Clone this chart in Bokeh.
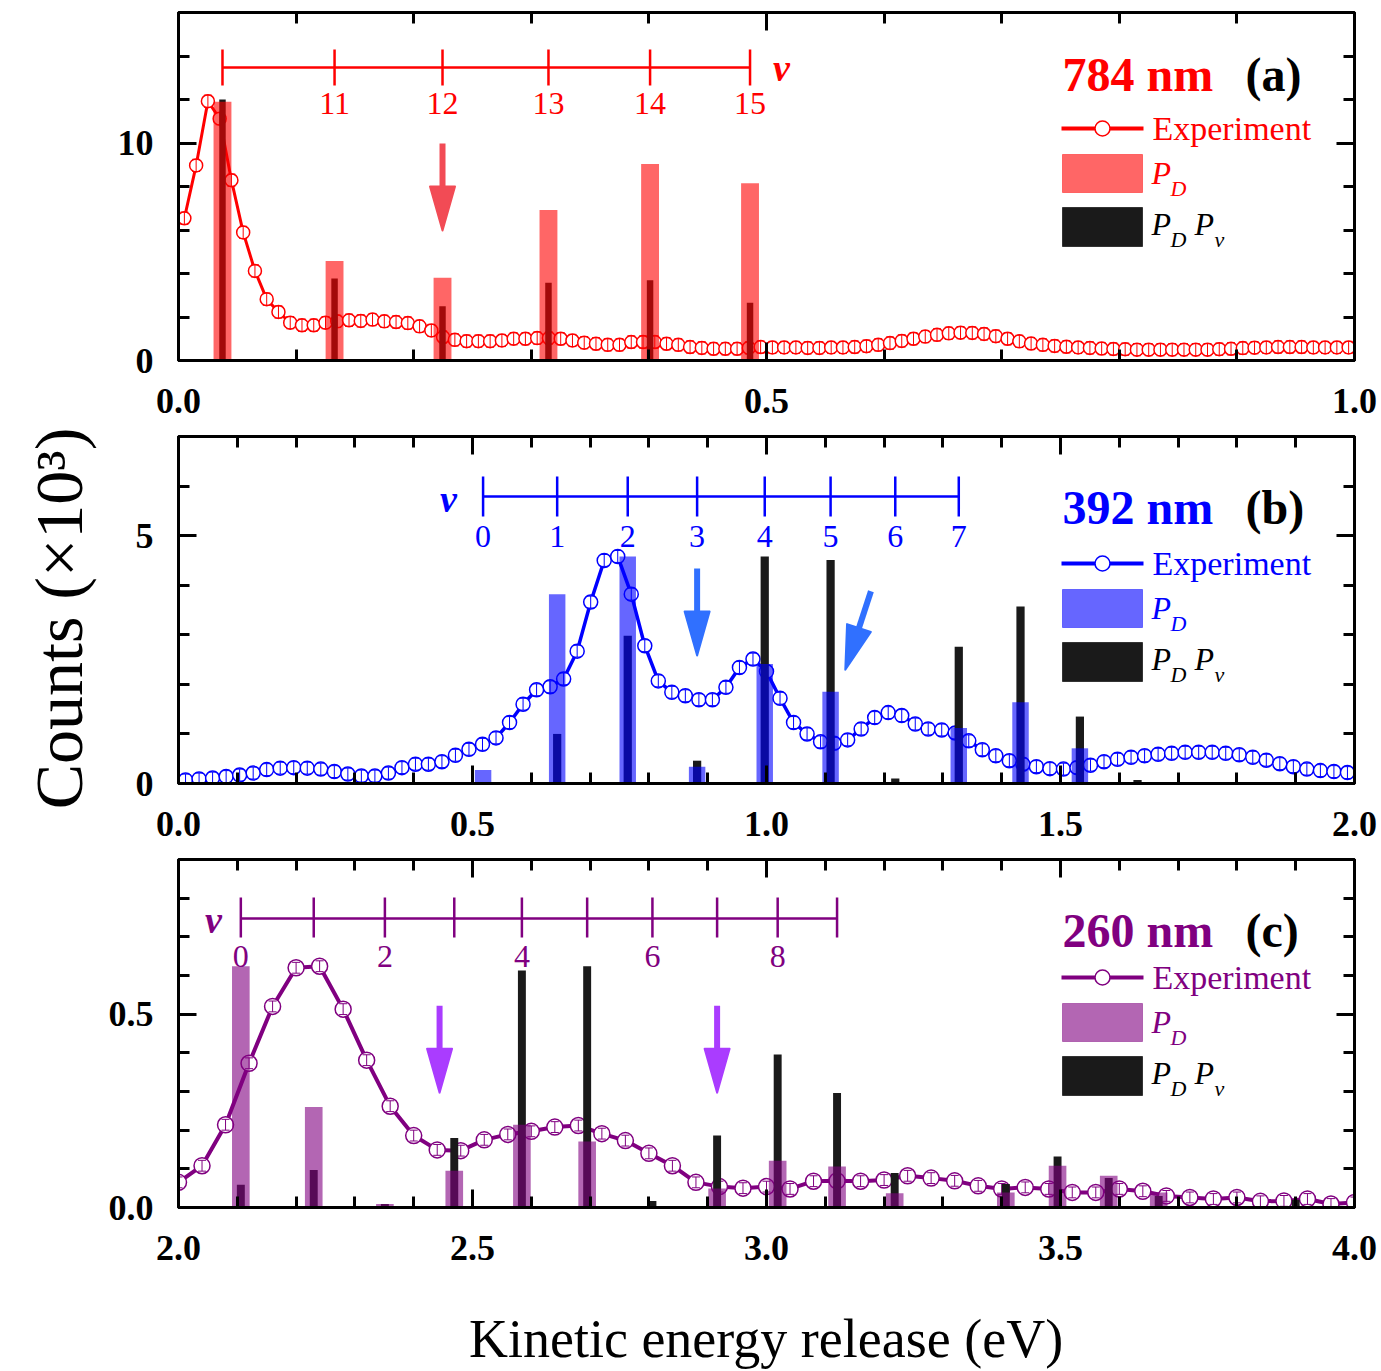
import math
from bokeh.plotting import figure
from bokeh.layouts import column, row
from bokeh.models import Range1d, FixedTicker, LinearAxis, PrintfTickFormatter, Label
from bokeh.core.properties import value
from bokeh.embed import file_html
from bokeh.resources import INLINE

SERIF = "Liberation Serif"
DARK = "#1a1a1a"

# ---------------- (a) 784 nm ----------------
ker_a = [0.005, 0.015, 0.025, 0.035, 0.045, 0.055, 0.065, 0.075, 0.085, 0.095,
         0.105, 0.115, 0.125, 0.135, 0.145, 0.155, 0.165, 0.175, 0.185, 0.195,
         0.205, 0.215, 0.225, 0.235, 0.245, 0.255, 0.265, 0.275, 0.285, 0.295,
         0.305, 0.315, 0.325, 0.335, 0.345, 0.355, 0.365, 0.375, 0.385, 0.395,
         0.405, 0.415, 0.425, 0.435, 0.445, 0.455, 0.465, 0.475, 0.485, 0.495,
         0.505, 0.515, 0.525, 0.535, 0.545, 0.555, 0.565, 0.575, 0.585, 0.595,
         0.605, 0.615, 0.625, 0.635, 0.645, 0.655, 0.665, 0.675, 0.685, 0.695,
         0.705, 0.715, 0.725, 0.735, 0.745, 0.755, 0.765, 0.775, 0.785, 0.795,
         0.805, 0.815, 0.825, 0.835, 0.845, 0.855, 0.865, 0.875, 0.885, 0.895,
         0.905, 0.915, 0.925, 0.935, 0.945, 0.955, 0.965, 0.975, 0.985, 0.995]
counts_a = [6.54, 8.97, 11.92, 11.12, 8.29, 5.89, 4.12, 2.82, 2.23, 1.74,
            1.62, 1.62, 1.74, 1.80, 1.85, 1.82, 1.88, 1.80, 1.77, 1.72,
            1.57, 1.38, 1.08, 0.95, 0.89, 0.89, 0.89, 0.92, 1.00, 1.00,
            1.03, 1.03, 1.00, 0.92, 0.82, 0.77, 0.72, 0.72, 0.85, 0.85,
            0.85, 0.77, 0.72, 0.62, 0.58, 0.54, 0.54, 0.54, 0.58, 0.62,
            0.60, 0.60, 0.60, 0.58, 0.58, 0.60, 0.60, 0.62, 0.66, 0.72,
            0.80, 0.90, 1.00, 1.10, 1.18, 1.25, 1.28, 1.27, 1.22, 1.12,
            1.00, 0.88, 0.78, 0.72, 0.67, 0.63, 0.60, 0.58, 0.55, 0.53,
            0.52, 0.50, 0.50, 0.50, 0.50, 0.50, 0.50, 0.50, 0.52, 0.54,
            0.57, 0.59, 0.60, 0.62, 0.62, 0.62, 0.60, 0.60, 0.60, 0.60]
level_ker_a = [0.0374, 0.1327, 0.2245, 0.3146, 0.4010, 0.4860]
level_v_a = [10, 11, 12, 13, 14, 15]
pd_a = [11.9, 4.57, 3.80, 6.92, 9.03, 8.15]
pdpv_a = [12.0, 3.77, 2.49, 3.58, 3.69, 2.65]
arrows_a = [(0.2245, 9.98, 0.2245, 5.98)]

# ---------------- (b) 392 nm ----------------
ker_b = [0.012, 0.035, 0.058, 0.081, 0.104, 0.127, 0.150, 0.173, 0.196, 0.219,
         0.242, 0.265, 0.288, 0.311, 0.334, 0.357, 0.380, 0.403, 0.425, 0.448,
         0.471, 0.494, 0.517, 0.540, 0.563, 0.586, 0.609, 0.632, 0.655, 0.678,
         0.701, 0.724, 0.747, 0.770, 0.793, 0.816, 0.839, 0.862, 0.885, 0.908,
         0.931, 0.954, 0.977, 1.000, 1.023, 1.046, 1.069, 1.092, 1.115, 1.138,
         1.161, 1.184, 1.207, 1.230, 1.253, 1.275, 1.298, 1.321, 1.344, 1.367,
         1.390, 1.413, 1.436, 1.459, 1.482, 1.505, 1.528, 1.551, 1.574, 1.597,
         1.620, 1.643, 1.666, 1.689, 1.712, 1.735, 1.758, 1.781, 1.804, 1.827,
         1.850, 1.873, 1.896, 1.919, 1.942, 1.965, 1.988]
counts_b = [0.07, 0.09, 0.11, 0.14, 0.17, 0.21, 0.28, 0.31, 0.32, 0.31,
            0.29, 0.24, 0.19, 0.15, 0.15, 0.21, 0.32, 0.39, 0.39, 0.44,
            0.57, 0.69, 0.79, 0.92, 1.23, 1.60, 1.89, 1.95, 2.11, 2.67,
            3.66, 4.50, 4.58, 3.82, 2.78, 2.07, 1.84, 1.77, 1.69, 1.69,
            1.94, 2.34, 2.51, 2.26, 1.72, 1.23, 1.00, 0.84, 0.81, 0.88,
            1.10, 1.33, 1.43, 1.37, 1.20, 1.10, 1.08, 1.02, 0.86, 0.68,
            0.56, 0.46, 0.39, 0.34, 0.30, 0.29, 0.32, 0.37, 0.44, 0.49,
            0.53, 0.56, 0.59, 0.61, 0.63, 0.63, 0.63, 0.61, 0.58, 0.53,
            0.47, 0.40, 0.34, 0.29, 0.26, 0.24, 0.22]
level_ker_b = [0.518, 0.644, 0.764, 0.882, 0.997, 1.109, 1.219, 1.327, 1.432, 1.533, 1.631]
level_v_b = [0, 1, 2, 3, 4, 5, 6, 7, 8, 9, 10]
pd_b = [0.27, 3.82, 4.58, 0.34, 2.41, 1.85, 0.0, 1.12, 1.64, 0.71, 0.0]
pdpv_b = [0.0, 1.00, 2.98, 0.46, 4.58, 4.51, 0.10, 2.76, 3.57, 1.35, 0.07]
arrows_b = [(0.882, 4.337, 0.882, 2.582), (1.1776, 3.879, 1.134, 2.294)]

# ---------------- (c) 260 nm ----------------
ker_c = [2.00, 2.04, 2.08, 2.12, 2.16, 2.20, 2.24, 2.28, 2.32, 2.36,
         2.40, 2.44, 2.48, 2.52, 2.56, 2.60, 2.64, 2.68, 2.72, 2.76,
         2.80, 2.84, 2.88, 2.92, 2.96, 3.00, 3.04, 3.08, 3.12, 3.16,
         3.20, 3.24, 3.28, 3.32, 3.36, 3.40, 3.44, 3.48, 3.52, 3.56,
         3.60, 3.64, 3.68, 3.72, 3.76, 3.80, 3.84, 3.88, 3.92, 3.96, 4.00]
counts_c = [0.065, 0.108, 0.214, 0.373, 0.520, 0.620, 0.624, 0.513, 0.381, 0.262,
            0.186, 0.149, 0.147, 0.175, 0.189, 0.197, 0.208, 0.212, 0.191, 0.173,
            0.140, 0.108, 0.065, 0.054, 0.050, 0.054, 0.048, 0.068, 0.069, 0.068,
            0.071, 0.082, 0.076, 0.069, 0.056, 0.048, 0.052, 0.048, 0.039, 0.039,
            0.048, 0.042, 0.030, 0.026, 0.022, 0.026, 0.016, 0.017, 0.022, 0.009, 0.013]
level_ker_c = [2.106, 2.230, 2.351, 2.469, 2.584, 2.695, 2.806, 2.916, 3.019, 3.120,
               3.218, 3.316, 3.407, 3.495, 3.582, 3.667, 3.900]
level_v_c = [0, 1, 2, 3, 4, 5, 6, 7, 8, 9, 10, 11, 12, 13, 14, 15, 18]
pd_c = [0.624, 0.260, 0.009, 0.095, 0.214, 0.171, 0.003, 0.049, 0.121, 0.106,
        0.037, 0.003, 0.039, 0.108, 0.082, 0.039, 0.0]
pdpv_c = [0.059, 0.097, 0.009, 0.180, 0.613, 0.624, 0.017, 0.186, 0.396, 0.296,
          0.089, 0.0, 0.061, 0.132, 0.076, 0.030, 0.020]
arrows_c = [(2.444, 0.522, 2.444, 0.297), (2.916, 0.522, 2.916, 0.297)]

Y_TITLE = "Counts (×10³)"
X_TITLE = "Kinetic energy release (eV)"

PANELS = [
    dict(tag="(a)", wl="784 nm", color="#FF0000", arrow_color="#F24B55",
         ker=ker_a, counts=counts_a, lk=level_ker_a, lv=level_v_a, pd=pd_a, pdpv=pdpv_a,
         arrows=arrows_a, v_first=10, v_last=15, v_labels=[11, 12, 13, 14, 15],
         xr=(0.0, 1.0), yr=(0.0, 16.0), h=430, bt=12, bb=70, ft=12, fb=360,
         y_major=[0, 10], y_minor=[2, 4, 6, 8, 12, 14], y_fmt="%d",
         x_major=[0.0, 0.5, 1.0], x_step=0.1,
         w_pd=0.0152, w_pdpv=0.0055, err=0.28, msize=13, lw=3,
         scale_y=67, tick_lo=85, tick_hi=49, lab_y=103, v_xy=(781, 67),
         title_y=90, leg_y=128),
    dict(tag="(b)", wl="392 nm", color="#0000FF", arrow_color="#3070FF",
         ker=ker_b, counts=counts_b, lk=level_ker_b, lv=level_v_b, pd=pd_b, pdpv=pdpv_b,
         arrows=arrows_b, v_first=0, v_last=7, v_labels=[0, 1, 2, 3, 4, 5, 6, 7],
         xr=(0.0, 2.0), yr=(0.0, 7.0), h=423, bt=6, bb=70, ft=436, fb=783,
         y_major=[0, 5], y_minor=[1, 2, 3, 4, 6], y_fmt="%d",
         x_major=[0.0, 0.5, 1.0, 1.5, 2.0], x_step=0.1,
         w_pd=0.028, w_pdpv=0.014, err=0.12, msize=14, lw=3.5,
         scale_y=496, tick_lo=516, tick_hi=476, lab_y=536, v_xy=(448, 498),
         title_y=523, leg_y=563),
    dict(tag="(c)", wl="260 nm", color="#800080", arrow_color="#AA3CFF",
         ker=ker_c, counts=counts_c, lk=level_ker_c, lv=level_v_c, pd=pd_c, pdpv=pdpv_c,
         arrows=arrows_c, v_first=0, v_last=9, v_labels=[0, 2, 4, 6, 8],
         xr=(2.0, 4.0), yr=(0.0, 0.9), h=424, bt=6, bb=70, ft=859, fb=1207,
         y_major=[0.0, 0.5], y_minor=[0.1, 0.2, 0.3, 0.4, 0.6, 0.7, 0.8], y_fmt="%.1f",
         x_major=[2.0, 2.5, 3.0, 3.5, 4.0], x_step=0.1,
         w_pd=0.030, w_pdpv=0.0135, err=0.014, msize=16, lw=4,
         scale_y=918, tick_lo=937, tick_hi=897, lab_y=956, v_xy=(213, 919),
         title_y=946, leg_y=977),
]

PAGE_W, PAGE_H = 1381, 1371
SIDE_W = 100                     # strip that carries the vertical axis title
FRAME_L, FRAME_W = 178, 1176     # frame position on the page
PANELS_H = sum(c["h"] for c in PANELS)


def px_to_x(cfg, page_x):
    x0, x1 = cfg["xr"]
    return x0 + (page_x - FRAME_L) * (x1 - x0) / FRAME_W


def px_to_y(cfg, page_y):
    y0, y1 = cfg["yr"]
    return y0 + (cfg["fb"] - page_y) * (y1 - y0) / (cfg["fb"] - cfg["ft"])


def style_axis(ax, major, minor, fmt, show_labels):
    ax.ticker = FixedTicker(ticks=major, minor_ticks=minor)
    ax.axis_line_width = 3
    ax.axis_line_color = "black"
    ax.major_tick_in = 18
    ax.major_tick_out = 0
    ax.minor_tick_in = 11
    ax.minor_tick_out = 0
    ax.major_tick_line_width = 3
    ax.minor_tick_line_width = 3
    ax.major_tick_line_color = "black"
    ax.minor_tick_line_color = "black"
    if show_labels:
        ax.formatter = PrintfTickFormatter(format=fmt)
        ax.major_label_text_font = SERIF
        ax.major_label_text_font_style = "bold"
        ax.major_label_text_font_size = "36px"
        ax.major_label_text_color = "black"
    else:
        ax.major_label_text_color = None
        ax.major_label_text_font_size = "1px"
        ax.major_label_standoff = 0


def draw_arrow(p, cfg, x0, y0, x1, y1, color):
    xa, xb = cfg["xr"]
    ya, yb = cfg["yr"]
    sx = FRAME_W / (xb - xa)
    sy = (cfg["fb"] - cfg["ft"]) / (yb - ya)
    head_len, head_w = 44.0, 25.0
    ddx, ddy = (x1 - x0) * sx, (y1 - y0) * sy
    L = math.hypot(ddx, ddy)
    ux, uy = ddx / L, ddy / L
    bx, by = -ux * head_len, -uy * head_len
    nx, ny = -uy * head_w / 2, ux * head_w / 2
    p.segment(x0=x0, y0=y0, x1=x1 + bx / sx, y1=y1 + by / sy,
              line_color=color, line_width=6, line_cap="butt")
    p.patch(x=[x1, x1 + (bx + nx) / sx, x1 + (bx - nx) / sx],
            y=[y1, y1 + (by + ny) / sy, y1 + (by - ny) / sy],
            fill_color=color, line_color=color, line_width=2, line_join="round")


def build(cfg):
    x0, x1 = cfg["xr"]
    y0, y1 = cfg["yr"]
    p = figure(width=PAGE_W - SIDE_W, height=cfg["h"], x_range=Range1d(x0, x1),
               y_range=Range1d(y0, y1), output_backend="svg", toolbar_location=None,
               title=None, min_border_left=FRAME_L - SIDE_W,
               min_border_right=PAGE_W - FRAME_L - FRAME_W,
               min_border_top=cfg["bt"], min_border_bottom=cfg["bb"],
               background_fill_color="white", border_fill_color="white")
    p.xgrid.visible = False
    p.ygrid.visible = False
    p.outline_line_color = "black"
    p.outline_line_width = 3

    nstep = round((x1 - x0) / cfg["x_step"])
    x_minor = [round(x0 + k * cfg["x_step"], 3) for k in range(nstep + 1)]
    x_minor = [t for t in x_minor if all(abs(t - m) > 1e-9 for m in cfg["x_major"])]

    bottom_ax = p.xaxis[0]
    left_ax = p.yaxis[0]
    style_axis(bottom_ax, cfg["x_major"], x_minor, "%.1f", True)
    bottom_ax.major_label_standoff = 28
    style_axis(left_ax, cfg["y_major"], cfg["y_minor"], cfg["y_fmt"], True)
    left_ax.major_label_standoff = 25
    top = LinearAxis()
    style_axis(top, cfg["x_major"], x_minor, "%.1f", False)
    p.add_layout(top, "above")
    right = LinearAxis()
    style_axis(right, cfg["y_major"], cfg["y_minor"], cfg["y_fmt"], False)
    p.add_layout(right, "right")

    col = cfg["color"]
    cap = 4 * (x1 - x0) / FRAME_W

    # experimental spectrum with error bars
    ker, cnt = cfg["ker"], cfg["counts"]
    e = cfg["err"]
    p.line(ker, cnt, line_color=col, line_width=cfg["lw"])
    p.scatter(ker, cnt, marker="circle", size=cfg["msize"], fill_color="white",
              line_color=col, line_width=1.5)
    lo = [c - e for c in cnt]
    hi = [c + e for c in cnt]
    p.segment(x0=ker, y0=lo, x1=ker, y1=hi, line_color=col, line_width=1)
    p.segment(x0=[k - cap for k in ker], y0=lo, x1=[k + cap for k in ker], y1=lo,
              line_color=col, line_width=1)
    p.segment(x0=[k - cap for k in ker], y0=hi, x1=[k + cap for k in ker], y1=hi,
              line_color=col, line_width=1)

    # model bars: P_D P_v underneath, translucent P_D on top
    p.vbar(x=cfg["lk"], top=cfg["pdpv"], bottom=0, width=cfg["w_pdpv"],
           fill_color=DARK, line_color=None)
    p.vbar(x=cfg["lk"], top=cfg["pd"], bottom=0, width=cfg["w_pd"],
           fill_color=col, fill_alpha=0.6, line_color=None)

    # vibrational comb
    lk, lv = cfg["lk"], cfg["lv"]
    comb_x = [k for k, v in zip(lk, lv) if cfg["v_first"] <= v <= cfg["v_last"]]
    sy_line = px_to_y(cfg, cfg["scale_y"])
    p.segment(x0=[comb_x[0]], y0=[sy_line], x1=[comb_x[-1]], y1=[sy_line],
              line_color=col, line_width=2.5)
    p.segment(x0=comb_x, y0=[px_to_y(cfg, cfg["tick_lo"])] * len(comb_x),
              x1=comb_x, y1=[px_to_y(cfg, cfg["tick_hi"])] * len(comb_x),
              line_color=col, line_width=2.5)
    lab_x = [k for k, v in zip(lk, lv) if v in cfg["v_labels"]]
    lab_t = [str(v) for v in lv if v in cfg["v_labels"]]
    p.text(x=lab_x, y=[px_to_y(cfg, cfg["lab_y"])] * len(lab_x), text=lab_t,
           text_font=value(SERIF), text_font_size="32px", text_color=col,
           text_align="center", text_baseline="middle")

    def label(txt, px, baseline_py, size, style, color, align="left"):
        # place the text so that its baseline sits at baseline_py
        center = baseline_py - 0.33 * size
        p.add_layout(Label(x=px_to_x(cfg, px), y=px_to_y(cfg, center), text=txt,
                           text_font=SERIF, text_font_size=f"{size}px",
                           text_font_style=style, text_color=color,
                           text_align=align, text_baseline="middle"))

    vx, vy = cfg["v_xy"]
    p.add_layout(Label(x=px_to_x(cfg, vx), y=px_to_y(cfg, vy), text="v",
                       text_font=SERIF, text_font_size="38px", text_font_style="bold italic",
                       text_color=col, text_align="center", text_baseline="middle"))

    for (ax0, ay0, ax1, ay1) in cfg["arrows"]:
        draw_arrow(p, cfg, ax0, ay0, ax1, ay1, cfg["arrow_color"])

    # wavelength tag and panel letter
    label(cfg["wl"], 1062, cfg["title_y"], 48, "bold", col)
    label(cfg["tag"], 1245, cfg["title_y"], 48, "bold", "black")

    # legend
    ly = cfg["leg_y"]
    p.segment(x0=[px_to_x(cfg, 1061)], y0=[px_to_y(cfg, ly)], x1=[px_to_x(cfg, 1143)],
              y1=[px_to_y(cfg, ly)], line_color=col, line_width=4)
    p.scatter([px_to_x(cfg, 1102)], [px_to_y(cfg, ly)], marker="circle", size=15,
              fill_color="white", line_color=col, line_width=1.5)
    label("Experiment", 1152, ly + 11, 34, "normal", col)
    r1t, r2t = ly + 26, ly + 79
    p.quad(left=[px_to_x(cfg, 1062)], right=[px_to_x(cfg, 1142)],
           top=[px_to_y(cfg, r1t)], bottom=[px_to_y(cfg, r1t + 38)],
           fill_color=col, fill_alpha=0.6, line_color=col, line_alpha=0.45, line_width=1)
    p.quad(left=[px_to_x(cfg, 1062)], right=[px_to_x(cfg, 1142)],
           top=[px_to_y(cfg, r2t)], bottom=[px_to_y(cfg, r2t + 39)],
           fill_color=DARK, line_color="#333333", line_width=1)

    label("P", 1151, r1t + 29, 32, "italic", col)
    label("D", 1170, r1t + 41, 22, "italic", col)
    label("P", 1151, r2t + 27, 32, "italic", "black")
    label("D", 1170, r2t + 39, 22, "italic", "black")
    label("P", 1194, r2t + 27, 32, "italic", "black")
    label("v", 1214, r2t + 39, 22, "italic", "black")
    return p


pa, pb, pc = [build(cfg) for cfg in PANELS]


def text_strip(width, height):
    s = figure(width=width, height=height, x_range=Range1d(0, width),
               y_range=Range1d(0, height), x_axis_type=None, y_axis_type=None,
               output_backend="svg", toolbar_location=None, title=None,
               min_border=0, outline_line_color=None,
               background_fill_color="white", border_fill_color="white")
    s.xgrid.visible = False
    s.ygrid.visible = False
    return s


# common x title below the bottom panel
bottom_h = PAGE_H - PANELS_H
xstrip = text_strip(PAGE_W - SIDE_W, bottom_h)
xstrip.text(x=[740 - SIDE_W], y=[PAGE_H - 1338], text=[X_TITLE],
            text_font=value(SERIF), text_font_size="54px", text_color="black",
            text_align="center", text_baseline="middle")

# common y title in a strip on the left
side = text_strip(SIDE_W, PAGE_H)
side.text(x=[58], y=[PAGE_H - 618], text=[Y_TITLE], angle=math.pi / 2,
          text_font=value(SERIF), text_font_size="68px", text_color="black",
          text_align="center", text_baseline="middle")

layout = row(side, column(pa, pb, pc, xstrip, spacing=0), spacing=0)
open("out.html", "w").write(file_html(layout, INLINE))
